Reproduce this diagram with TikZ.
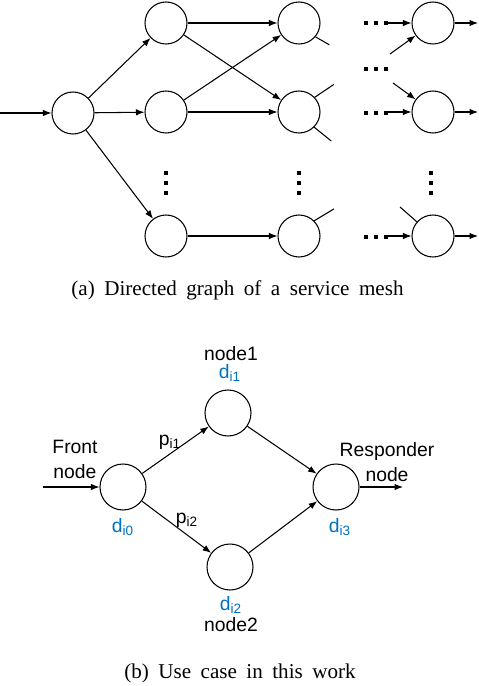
\documentclass[tikz,border=0pt]{standalone}
\usepackage{fontspec}
\setmainfont{Liberation Serif}
\setsansfont{Liberation Sans}
\usetikzlibrary{arrows.meta}
\definecolor{dblue}{HTML}{0070C0}

\begin{document}
\begin{tikzpicture}[
  circ/.style={draw,circle,minimum size=0.84cm,inner sep=0pt,line width=0.6pt},
  bigcirc/.style={circ,minimum size=0.92cm},
  arr/.style={-{Latex[length=0.17cm,width=0.13cm]},line width=0.6pt},
  stub/.style={line width=0.6pt},
  lab/.style={font=\sffamily\fontsize{11}{14.2}\selectfont,inner sep=0pt,align=center},
  dlab/.style={lab,text=dblue},
  capt/.style={font=\rmfamily\fontsize{12}{14}\selectfont,inner sep=0pt}]
  \useasboundingbox (0,0) rectangle (9.56,-13.72);
  % (a) service mesh
  \node[circ] (a0) at (1.46,-2.26) {};
  \foreach \c/\x in {1/3.32,2/5.98,3/8.66}
    \foreach \r/\y in {1/-0.46,2/-2.24,3/-4.72}
      \node[circ] (c\c\r) at (\x,\y) {};
  \coordinate (in) at (0,-2.26);
  \draw[arr] (in) -- (a0);
  \foreach \s/\t in {a0/c11,a0/c12,a0/c13,c11/c21,c11/c22,c12/c21,c12/c22,c13/c23}
    \draw[arr] (\s) -- (\t);
  \draw[stub] (c21.-40) -- ++(-30:0.32);
  \draw[stub] (c22.43) -- ++(34:0.46);
  \draw[stub] (c22.-45) -- ++(-39:0.44);
  \draw[stub] (c23.45) -- ++(31:0.46);
  \coordinate (s31) at (7.8,-1.08);
  \coordinate (s32) at (7.86,-1.66);
  \coordinate (s33) at (8.0,-4.14);
  \draw[arr] (s31) -- (c31);
  \draw[arr] (s32) -- (c32);
  \draw[stub] (s33) -- (c33);
  \foreach \r/\y in {1/-0.46,2/-2.24,3/-4.72}{
    \coordinate (h\r) at (7.76,\y);
    \coordinate (o\r) at (9.56,\y);
    \draw[arr] (h\r) -- (c3\r);
    \draw[arr] (c3\r) -- (o\r);
  }
  \foreach \y in {-0.46,-1.38,-2.26,-4.74}
    \foreach \x in {7.32,7.52,7.72}
      \fill (\x-0.04,\y-0.04) rectangle ++(0.08,0.08);
  \foreach \x in {3.32,5.98,8.62}
    \foreach \y in {-3.46,-3.66,-3.86}
      \fill (\x-0.04,\y-0.04) rectangle ++(0.08,0.08);
  \node[capt] (capa) at (4.75,-5.8) {\spaceskip=0.45em (a) Directed graph of a service mesh};
  % (b) use case
  \node[bigcirc] (f) at (2.46,-9.74) {};
  \node[bigcirc] (n1) at (4.56,-8.26) {};
  \node[bigcirc] (n2) at (4.6,-11.34) {};
  \node[bigcirc] (r) at (6.72,-9.74) {};
  \coordinate (fin) at (0.86,-9.74);
  \coordinate (rout) at (8.06,-9.74);
  \draw[arr] (fin) -- (f);
  \draw[arr] (f) -- (n1);
  \draw[arr] (f) -- (n2);
  \draw[arr] (n1) -- (r);
  \draw[arr] (n2) -- (r);
  \draw[arr] (r) -- (rout);
  \node[lab] (n1name) at (4.62,-7.08) {node1};
  \node[dlab] (d1) at (4.6,-7.46) {d\textsubscript{i1}};
  \node[lab] (fname) at (1.5,-9.18) {Front\\node};
  \node[lab] (p1) at (3.4,-8.84) {p\textsubscript{i1}};
  \node[lab] (p2) at (3.74,-10.4) {p\textsubscript{i2}};
  \node[dlab] (d0) at (2.46,-10.54) {d\textsubscript{i0}};
  \node[dlab] (d3) at (6.8,-10.54) {d\textsubscript{i3}};
  \node[lab] (rname) at (7.74,-9.24) {Responder\\node};
  \node[dlab] (d2) at (4.62,-12.1) {d\textsubscript{i2}};
  \node[lab] (n2name) at (4.62,-12.5) {node2};
  \node[capt] (capb) at (4.8,-13.46) {\spaceskip=0.45em (b) Use case in this work};
\end{tikzpicture}
\end{document}
